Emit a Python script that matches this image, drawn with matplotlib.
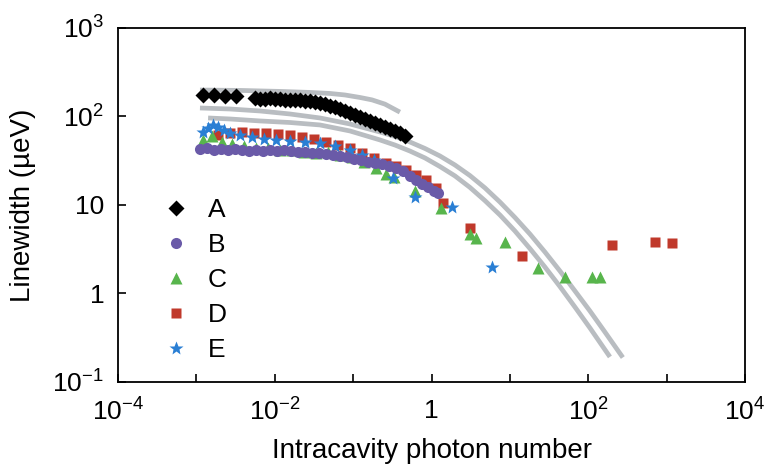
import matplotlib
matplotlib.use('Agg')
import matplotlib.pyplot as plt

plt.rcParams['font.family'] = ['Liberation Sans', 'DejaVu Sans']
plt.rcParams['mathtext.fontset'] = 'custom'
plt.rcParams['mathtext.rm'] = 'Liberation Sans'
plt.rcParams['mathtext.it'] = 'Liberation Sans:italic'
plt.rcParams['mathtext.default'] = 'regular'

# data (photon number, linewidth in ueV)
A_x = [0.00121, 0.00168, 0.00232, 0.00320, 0.00559, 0.00648, 0.0075, 0.00869, 0.0101, 0.0117,
       0.0135, 0.0156, 0.0181, 0.021, 0.0243, 0.0281, 0.0326, 0.0377, 0.0437, 0.0506,
       0.0586, 0.0679, 0.0786, 0.091, 0.105, 0.122, 0.141, 0.164, 0.19, 0.22,
       0.254, 0.295, 0.341, 0.395, 0.458]
A_y = [173, 173, 170, 170, 162, 158, 158, 162, 158, 158,
       154, 154, 154, 154, 150, 150, 146, 142, 138, 131,
       128, 122, 115, 110, 104, 99, 94, 89, 84, 80,
       76, 72, 69, 65, 60]

B_x = [0.00111, 0.00137, 0.00168, 0.00206, 0.00253, 0.00311, 0.00382, 0.00469, 0.00576, 0.00707,
       0.00869, 0.0107, 0.0131, 0.0161, 0.0198, 0.0243, 0.0298, 0.0366, 0.045, 0.0553,
       0.0679, 0.0834, 0.102, 0.126, 0.154, 0.19, 0.233, 0.286, 0.351, 0.432,
       0.53, 0.632, 0.755, 0.9, 1.07, 1.21]
B_y = [42.9, 44.1, 41.8, 42.9, 41.8, 42.9, 41.8, 40.7, 41.8, 40.7,
       41.8, 40.7, 41.8, 40.7, 39.7, 39.7, 38.7, 38.7, 37.7, 36.7,
       35.8, 34.9, 33.1, 32.2, 30.6, 29.8, 29.1, 27.6, 26.2, 24.2,
       21.3, 19.2, 17.3, 16.0, 14.4, 13.7]

C_x = [0.00121, 0.00158, 0.00212, 0.00285, 0.00405, 0.00576, 0.00819, 0.0117, 0.0166, 0.0236,
       0.0335, 0.0477, 0.0679, 0.0965, 0.137, 0.195, 0.262, 0.332, 0.614, 1.32,
       3.09, 3.68, 8.63, 22.8, 50.3, 111, 141]
C_y = [54.3, 60.2, 51.5, 48.9, 46.4, 44.1, 44.1, 41.8, 41.8, 39.7,
       38.7, 39.7, 36.7, 34.9, 30.6, 26.2, 22.4, 20.7, 14.4, 9.25,
       4.70, 4.24, 3.82, 1.94, 1.54, 1.54, 1.54]

D_x = [0.00189, 0.00268, 0.00382, 0.00543, 0.00772, 0.011, 0.0156, 0.0222, 0.0316, 0.045,
       0.064, 0.091, 0.13, 0.184, 0.262, 0.351, 0.472, 0.632, 0.848, 1.14,
       1.4, 3.09, 14.2, 200, 707, 1165]
D_y = [61.8, 65.1, 66.8, 65.1, 65.1, 63.4, 61.8, 58.7, 55.7, 51.5,
       47.6, 44.1, 38.7, 34.0, 29.8, 27.6, 24.9, 21.8, 19.2, 15.6,
       10.5, 5.50, 2.65, 3.53, 3.82, 3.72]

E_x = [0.00121, 0.00141, 0.00163, 0.00189, 0.00225, 0.00268, 0.0036, 0.00512, 0.00728, 0.0104,
       0.0156, 0.0243, 0.0377, 0.0586, 0.091, 0.13, 0.184, 0.322, 0.614, 1.82, 5.89]
E_y = [66.8, 74.2, 80.2, 76.1, 70.4, 65.1, 61.8, 58.7, 55.7, 54.3,
       52.9, 51.5, 50.2, 46.4, 41.8, 36.7, 32.2, 20.2, 12.3, 9.49, 1.99]

# grey model curves, read as points along the lines
fitA_x = [0.00111, 0.0036, 0.01165, 0.0281, 0.0506, 0.0786, 0.122, 0.174, 0.254, 0.395]
fitA_y = [199, 197, 192, 187, 182, 175, 164, 154, 138, 112]

fit1_x = [0.00111, 0.00268, 0.00648, 0.0156, 0.0377, 0.091, 0.22, 0.341, 0.53, 0.824,
          1.28, 1.99, 3.09, 4.80, 7.46, 11.6, 18.0, 28.0, 43.4, 67.5,
          105, 163, 276]
fit1_y = [124.7, 121.5, 115.4, 106.7, 96.2, 82.3, 66.8, 59.4, 51.5, 43.5,
          35.8, 28.3, 21.5, 15.6, 10.8, 7.22, 4.70, 2.94, 1.80, 1.07,
          0.634, 0.367, 0.189]

fit2_x = [0.00141, 0.00268, 0.00648, 0.0156, 0.0377, 0.091, 0.22, 0.341, 0.53, 0.824,
          1.28, 1.99, 3.09, 4.80, 7.46, 11.6, 18.0, 28.0, 43.4, 67.5,
          105, 189]
fit2_y = [96.2, 93.7, 89.0, 85.5, 80.2, 68.6, 54.3, 47.6, 40.7, 34.0,
          27.2, 21.3, 15.8, 11.2, 7.71, 5.08, 3.22, 1.99, 1.20, 0.704,
          0.408, 0.192]

xticks = [1e-4, 1e-3, 1e-2, 1e-1, 1, 1e1, 1e2, 1e3, 1e4]
xticklabels = ['$10^{-4}$', '', '$10^{-2}$', '', '1', '', '$10^{2}$', '', '$10^{4}$']
yticks = [1e-1, 1, 1e1, 1e2, 1e3]
yticklabels = ['$10^{-1}$', '1', '10', '$10^{2}$', '$10^{3}$']

fig = plt.figure(figsize=(7.73, 4.71), dpi=100)
ax = fig.add_axes([0.1527, 0.189, 0.8111, 0.7516])

grey = '#b9bdc1'
for fx, fy in [(fitA_x, fitA_y), (fit1_x, fit1_y), (fit2_x, fit2_y)]:
    ax.plot(fx, fy, '-', color=grey, lw=3.4, solid_capstyle='butt',
            solid_joinstyle='round', zorder=1)

ax.plot(D_x, D_y, 's', color='#c0392b', ms=7.5, mec='none', label='D', zorder=2)
ax.plot(C_x, C_y, '^', color='#58b54c', ms=9, mec='none', label='C', zorder=3)
ax.plot(E_x, E_y, '*', color='#2a7fd4', ms=10, mec='none', label='E', zorder=4)
ax.plot(B_x, B_y, 'o', color='#6a5aa8', ms=8, mec='none', label='B', zorder=5)
ax.plot(A_x, A_y, 'D', color='black', ms=8.5, mec='none', label='A', zorder=6)

ax.set_xscale('log')
ax.set_yscale('log')
ax.set_xlim(1e-4, 1e4)
ax.set_ylim(1e-1, 1e3)
ax.set_xticks(xticks)
ax.set_xticklabels(xticklabels)
ax.set_yticks(yticks)
ax.set_yticklabels(yticklabels)
ax.minorticks_off()
ax.tick_params(direction='in', length=5.5, width=1.2, labelsize=19, top=False, right=False)
ax.tick_params(axis='y', pad=10)
ax.tick_params(axis='x', pad=12)
for s in ax.spines.values():
    s.set_linewidth(1.3)

ax.set_xlabel('Intracavity photon number', fontsize=20, labelpad=9)
ax.set_ylabel('Linewidth (µeV)', fontsize=20, labelpad=12)

h, l = ax.get_legend_handles_labels()
order = [l.index(k) for k in ['A', 'B', 'C', 'D', 'E']]
ax.legend([h[i] for i in order], [l[i] for i in order], loc='upper left',
          bbox_to_anchor=(0.055, 0.55), frameon=False, fontsize=19,
          numpoints=1, handlelength=1.0, handletextpad=0.7, labelspacing=0.42,
          borderaxespad=0)

fig.savefig('out.png', dpi=100)
